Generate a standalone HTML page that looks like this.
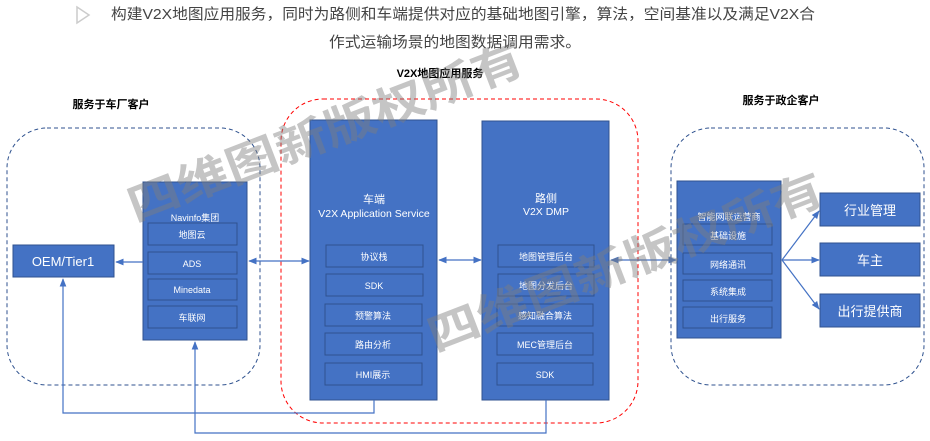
<!DOCTYPE html>
<html><head><meta charset="utf-8"><style>
body{margin:0;background:#fff;}
svg{display:block;font-family:"Liberation Sans","Noto Sans CJK SC",sans-serif;}
</style></head><body>
<svg width="930" height="441" viewBox="0 0 930 441" xmlns="http://www.w3.org/2000/svg">
<defs>
<marker id="ar" viewBox="0 0 10 10" refX="9" refY="5" markerWidth="7" markerHeight="7" orient="auto-start-reverse"><path d="M0,1 L10,5 L0,9 z" fill="#4472C4"/></marker>
</defs>
<!-- header -->
<path d="M77,7 L89,15 L77,23 z" fill="none" stroke="#ccc" stroke-width="1.5"/>
<text x="111" y="19" font-size="15" fill="#444" textLength="704" lengthAdjust="spacingAndGlyphs">构建V2X地图应用服务，同时为路侧和车端提供对应的基础地图引擎，算法，空间基准以及满足V2X合</text>
<text x="329" y="47" font-size="15" fill="#444" textLength="252" lengthAdjust="spacingAndGlyphs">作式运输场景的地图数据调用需求。</text>

<!-- headings -->
<text x="111" y="108" font-size="11" font-weight="bold" text-anchor="middle" fill="#000">服务于车厂客户</text>
<text x="440" y="77" font-size="11" font-weight="bold" text-anchor="middle" fill="#000">V2X地图应用服务</text>
<text x="781" y="104" font-size="11" font-weight="bold" text-anchor="middle" fill="#000">服务于政企客户</text>

<!-- dashed containers -->
<rect x="7" y="128" width="253" height="257" rx="40" fill="none" stroke="#2F528F" stroke-dasharray="4,3"/>
<rect x="281" y="99" width="357" height="324" rx="42" fill="none" stroke="#FF0000" stroke-dasharray="4,3"/>
<rect x="671" y="128" width="253" height="257" rx="40" fill="none" stroke="#2F528F" stroke-dasharray="4,3"/>

<g fill="#4472C4" stroke="#2F528F" stroke-width="1">
<rect x="13" y="245" width="101" height="32"/>
<rect x="143" y="182" width="104" height="158"/>
<rect x="310" y="120" width="127" height="280"/>
<rect x="482" y="121" width="127" height="279"/>
<rect x="677" y="181" width="104" height="157"/>
<rect x="820" y="193" width="100" height="33"/>
<rect x="820" y="243" width="100" height="33"/>
<rect x="820" y="294" width="100" height="33"/>
</g>
<g fill="none" stroke="#2F528F" stroke-width="1">
<rect x="148" y="223" width="89" height="22"/>
<rect x="148" y="252" width="89" height="22"/>
<rect x="148" y="279" width="89" height="21"/>
<rect x="148" y="306" width="89" height="22"/>
<rect x="326" y="245" width="97" height="22"/>
<rect x="326" y="274" width="97" height="22"/>
<rect x="325" y="304" width="97" height="22"/>
<rect x="325" y="333" width="97" height="22"/>
<rect x="325" y="363" width="97" height="22"/>
<rect x="498" y="245" width="96" height="22"/>
<rect x="498" y="274" width="96" height="22"/>
<rect x="497" y="304" width="96" height="22"/>
<rect x="497" y="333" width="96" height="22"/>
<rect x="497" y="363" width="96" height="22"/>
<rect x="683" y="224" width="89" height="21"/>
<rect x="683" y="253" width="89" height="21"/>
<rect x="683" y="280" width="89" height="21"/>
<rect x="683" y="307" width="89" height="21"/>
</g>

<g fill="#fff" text-anchor="middle">
<text x="63" y="266" font-size="13">OEM/Tier1</text>
<text x="195" y="221" font-size="9">Navinfo集团</text>
<text x="192" y="238" font-size="9">地图云</text>
<text x="192" y="267" font-size="9">ADS</text>
<text x="192" y="293" font-size="9">Minedata</text>
<text x="192" y="321" font-size="9">车联网</text>
<text x="374" y="203" font-size="11">车端</text>
<text x="374" y="217" font-size="10.5">V2X Application  Service</text>
<text x="374" y="260" font-size="9">协议栈</text>
<text x="374" y="289" font-size="9">SDK</text>
<text x="373" y="319" font-size="9">预警算法</text>
<text x="373" y="348" font-size="9">路由分析</text>
<text x="373" y="378" font-size="9">HMI展示</text>
<text x="546" y="202" font-size="11">路侧</text>
<text x="546" y="215" font-size="10.5">V2X DMP</text>
<text x="546" y="260" font-size="9">地图管理后台</text>
<text x="546" y="289" font-size="9">地图分发后台</text>
<text x="545" y="319" font-size="9">感知融合算法</text>
<text x="545" y="348" font-size="9">MEC管理后台</text>
<text x="545" y="378" font-size="9">SDK</text>
<text x="729" y="220" font-size="9">智能网联运营商</text>
<text x="728" y="239" font-size="9">基础设施</text>
<text x="728" y="268" font-size="9">网络通讯</text>
<text x="728" y="295" font-size="9">系统集成</text>
<text x="728" y="322" font-size="9">出行服务</text>
<text x="870" y="215" font-size="13">行业管理</text>
<text x="870" y="265" font-size="13">车主</text>
<text x="870" y="316" font-size="13">出行提供商</text>
</g>

<!-- connectors -->
<g stroke="#4472C4" stroke-width="1.2" fill="none">
<line x1="143" y1="262" x2="116" y2="262" marker-end="url(#ar)"/>
<line x1="249" y1="261" x2="309" y2="261" marker-start="url(#ar)" marker-end="url(#ar)"/>
<line x1="439" y1="260" x2="481" y2="260" marker-start="url(#ar)" marker-end="url(#ar)"/>
<line x1="611" y1="260" x2="676" y2="260" marker-start="url(#ar)" marker-end="url(#ar)"/>
<line x1="782" y1="260" x2="819" y2="211" marker-end="url(#ar)"/>
<line x1="782" y1="260" x2="819" y2="260" marker-end="url(#ar)"/>
<line x1="782" y1="260" x2="819" y2="309" marker-end="url(#ar)"/>
<polyline points="374,400 374,413 63,413 63,279" marker-end="url(#ar)"/>
<polyline points="546,400 546,433 195,433 195,342" marker-end="url(#ar)"/>
</g>

<!-- watermarks -->
<g fill="#7f7f7f" fill-opacity="0.45" font-size="44" font-weight="bold" font-family="'Noto Sans CJK SC',sans-serif">
<text transform="translate(135,222) rotate(-21)" textLength="420" lengthAdjust="spacingAndGlyphs">四维图新版权所有</text>
<text transform="translate(435,352) rotate(-21)" textLength="420" lengthAdjust="spacingAndGlyphs">四维图新版权所有</text>
</g>
</svg>
</body></html>
